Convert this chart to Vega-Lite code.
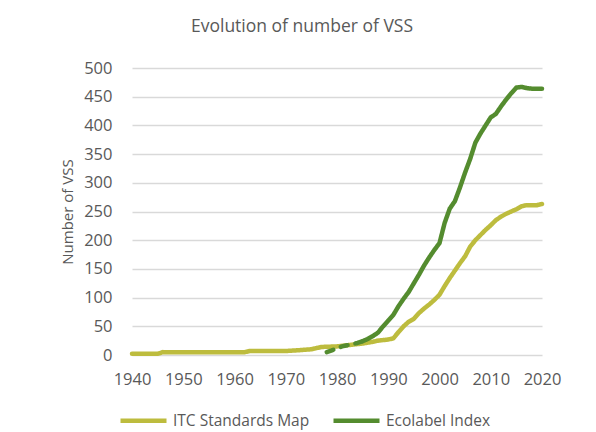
{
  "$schema": "https://vega.github.io/schema/vega-lite/v6.json",
  "width": 410,
  "height": 287,
  "autosize": {"type": "none"},
  "padding": {"left": 132, "top": 68, "right": 54, "bottom": 77},
  "background": "white",
  "title": {
    "text": "Evolution of number of VSS",
    "font": "Open Sans",
    "fontSize": 17.5,
    "fontWeight": "normal",
    "color": "#595959",
    "anchor": "middle",
    "frame": "group",
    "dx": -35,
    "baseline": "alphabetic",
    "offset": 11
  },
  "config": {
    "view": {"stroke": null},
    "axis": {
      "labelFont": "Open Sans",
      "labelFontSize": 16.5,
      "labelColor": "#595959",
      "titleFont": "Open Sans",
      "titleFontSize": 15,
      "titleFontWeight": "normal",
      "titleColor": "#595959",
      "gridColor": "#D9D9D9",
      "gridWidth": 1.3,
      "domain": false,
      "ticks": false,
      "tickSize": 0
    },
    "legend": {
      "labelFont": "Open Sans",
      "labelFontSize": 15.5,
      "labelColor": "#595959"
    }
  },
  "data": {
    "values": [
      {"year": 1940, "value": 2, "series": "ITC Standards Map", "seg": "solid"},
      {"year": 1945, "value": 2, "series": "ITC Standards Map", "seg": "solid"},
      {"year": 1946, "value": 5, "series": "ITC Standards Map", "seg": "solid"},
      {"year": 1950, "value": 5, "series": "ITC Standards Map", "seg": "solid"},
      {"year": 1955, "value": 5, "series": "ITC Standards Map", "seg": "solid"},
      {"year": 1962, "value": 5, "series": "ITC Standards Map", "seg": "solid"},
      {"year": 1963, "value": 7, "series": "ITC Standards Map", "seg": "solid"},
      {"year": 1970, "value": 7, "series": "ITC Standards Map", "seg": "solid"},
      {"year": 1972, "value": 8, "series": "ITC Standards Map", "seg": "solid"},
      {"year": 1975, "value": 10, "series": "ITC Standards Map", "seg": "solid"},
      {"year": 1977, "value": 14, "series": "ITC Standards Map", "seg": "solid"},
      {"year": 1980, "value": 15, "series": "ITC Standards Map", "seg": "solid"},
      {"year": 1982, "value": 17, "series": "ITC Standards Map", "seg": "solid"},
      {"year": 1985, "value": 20, "series": "ITC Standards Map", "seg": "solid"},
      {"year": 1987, "value": 23, "series": "ITC Standards Map", "seg": "solid"},
      {"year": 1988, "value": 25, "series": "ITC Standards Map", "seg": "solid"},
      {"year": 1990, "value": 27, "series": "ITC Standards Map", "seg": "solid"},
      {"year": 1991, "value": 29, "series": "ITC Standards Map", "seg": "solid"},
      {"year": 1992, "value": 40, "series": "ITC Standards Map", "seg": "solid"},
      {"year": 1993, "value": 50, "series": "ITC Standards Map", "seg": "solid"},
      {"year": 1994, "value": 58, "series": "ITC Standards Map", "seg": "solid"},
      {"year": 1995, "value": 63, "series": "ITC Standards Map", "seg": "solid"},
      {"year": 1996, "value": 73, "series": "ITC Standards Map", "seg": "solid"},
      {"year": 1997, "value": 81, "series": "ITC Standards Map", "seg": "solid"},
      {"year": 1998, "value": 88, "series": "ITC Standards Map", "seg": "solid"},
      {"year": 1999, "value": 96, "series": "ITC Standards Map", "seg": "solid"},
      {"year": 2000, "value": 105, "series": "ITC Standards Map", "seg": "solid"},
      {"year": 2001, "value": 120, "series": "ITC Standards Map", "seg": "solid"},
      {"year": 2002, "value": 134, "series": "ITC Standards Map", "seg": "solid"},
      {"year": 2003, "value": 147, "series": "ITC Standards Map", "seg": "solid"},
      {"year": 2004, "value": 160, "series": "ITC Standards Map", "seg": "solid"},
      {"year": 2005, "value": 172, "series": "ITC Standards Map", "seg": "solid"},
      {"year": 2006, "value": 189, "series": "ITC Standards Map", "seg": "solid"},
      {"year": 2007, "value": 200, "series": "ITC Standards Map", "seg": "solid"},
      {"year": 2008, "value": 209, "series": "ITC Standards Map", "seg": "solid"},
      {"year": 2009, "value": 218, "series": "ITC Standards Map", "seg": "solid"},
      {"year": 2010, "value": 226, "series": "ITC Standards Map", "seg": "solid"},
      {"year": 2011, "value": 235, "series": "ITC Standards Map", "seg": "solid"},
      {"year": 2012, "value": 241, "series": "ITC Standards Map", "seg": "solid"},
      {"year": 2013, "value": 246, "series": "ITC Standards Map", "seg": "solid"},
      {"year": 2014, "value": 250, "series": "ITC Standards Map", "seg": "solid"},
      {"year": 2015, "value": 254, "series": "ITC Standards Map", "seg": "solid"},
      {"year": 2016, "value": 259, "series": "ITC Standards Map", "seg": "solid"},
      {"year": 2017, "value": 261, "series": "ITC Standards Map", "seg": "solid"},
      {"year": 2018, "value": 261, "series": "ITC Standards Map", "seg": "solid"},
      {"year": 2019, "value": 261, "series": "ITC Standards Map", "seg": "solid"},
      {"year": 2020, "value": 263, "series": "ITC Standards Map", "seg": "solid"},
      {"year": 1978, "value": 5, "series": "Ecolabel Index", "seg": "dashed"},
      {"year": 1979, "value": 8, "series": "Ecolabel Index", "seg": "dashed"},
      {"year": 1980, "value": 12, "series": "Ecolabel Index", "seg": "dashed"},
      {"year": 1981, "value": 15, "series": "Ecolabel Index", "seg": "dashed"},
      {"year": 1982, "value": 17, "series": "Ecolabel Index", "seg": "dashed"},
      {"year": 1983, "value": 19, "series": "Ecolabel Index", "seg": "dashed"},
      {"year": 1984, "value": 21, "series": "Ecolabel Index", "seg": "dashed"},
      {"year": 1985, "value": 24, "series": "Ecolabel Index", "seg": "dashed"},
      {"year": 1985, "value": 24, "series": "Ecolabel Index", "seg": "solid"},
      {"year": 1986, "value": 28, "series": "Ecolabel Index", "seg": "solid"},
      {"year": 1987, "value": 33, "series": "Ecolabel Index", "seg": "solid"},
      {"year": 1988, "value": 39, "series": "Ecolabel Index", "seg": "solid"},
      {"year": 1989, "value": 50, "series": "Ecolabel Index", "seg": "solid"},
      {"year": 1990, "value": 60, "series": "Ecolabel Index", "seg": "solid"},
      {"year": 1991, "value": 70, "series": "Ecolabel Index", "seg": "solid"},
      {"year": 1992, "value": 85, "series": "Ecolabel Index", "seg": "solid"},
      {"year": 1993, "value": 98, "series": "Ecolabel Index", "seg": "solid"},
      {"year": 1994, "value": 110, "series": "Ecolabel Index", "seg": "solid"},
      {"year": 1995, "value": 125, "series": "Ecolabel Index", "seg": "solid"},
      {"year": 1996, "value": 140, "series": "Ecolabel Index", "seg": "solid"},
      {"year": 1997, "value": 156, "series": "Ecolabel Index", "seg": "solid"},
      {"year": 1998, "value": 170, "series": "Ecolabel Index", "seg": "solid"},
      {"year": 1999, "value": 183, "series": "Ecolabel Index", "seg": "solid"},
      {"year": 2000, "value": 195, "series": "Ecolabel Index", "seg": "solid"},
      {"year": 2001, "value": 230, "series": "Ecolabel Index", "seg": "solid"},
      {"year": 2002, "value": 255, "series": "Ecolabel Index", "seg": "solid"},
      {"year": 2003, "value": 268, "series": "Ecolabel Index", "seg": "solid"},
      {"year": 2004, "value": 292, "series": "Ecolabel Index", "seg": "solid"},
      {"year": 2005, "value": 318, "series": "Ecolabel Index", "seg": "solid"},
      {"year": 2006, "value": 342, "series": "Ecolabel Index", "seg": "solid"},
      {"year": 2007, "value": 370, "series": "Ecolabel Index", "seg": "solid"},
      {"year": 2008, "value": 386, "series": "Ecolabel Index", "seg": "solid"},
      {"year": 2009, "value": 400, "series": "Ecolabel Index", "seg": "solid"},
      {"year": 2010, "value": 414, "series": "Ecolabel Index", "seg": "solid"},
      {"year": 2011, "value": 420, "series": "Ecolabel Index", "seg": "solid"},
      {"year": 2012, "value": 433, "series": "Ecolabel Index", "seg": "solid"},
      {"year": 2013, "value": 445, "series": "Ecolabel Index", "seg": "solid"},
      {"year": 2014, "value": 456, "series": "Ecolabel Index", "seg": "solid"},
      {"year": 2015, "value": 466, "series": "Ecolabel Index", "seg": "solid"},
      {"year": 2016, "value": 467, "series": "Ecolabel Index", "seg": "solid"},
      {"year": 2017, "value": 465, "series": "Ecolabel Index", "seg": "solid"},
      {"year": 2018, "value": 464, "series": "Ecolabel Index", "seg": "solid"},
      {"year": 2019, "value": 464, "series": "Ecolabel Index", "seg": "solid"},
      {"year": 2020, "value": 464, "series": "Ecolabel Index", "seg": "solid"}
    ]
  },
  "encoding": {
    "x": {
      "field": "year",
      "type": "quantitative",
      "scale": {"domain": [1940, 2020], "nice": false},
      "axis": {
        "title": null,
        "values": [1940, 1950, 1960, 1970, 1980, 1990, 2000, 2010, 2020],
        "format": "d",
        "grid": false,
        "labelPadding": 16,
        "labelFlush": false
      }
    },
    "y": {
      "field": "value",
      "type": "quantitative",
      "scale": {"domain": [0, 500], "nice": false},
      "axis": {
        "title": "Number of VSS",
        "values": [0, 50, 100, 150, 200, 250, 300, 350, 400, 450, 500],
        "labelPadding": 20,
        "titlePadding": 8
      }
    },
    "color": {
      "field": "series",
      "type": "nominal",
      "scale": {"domain": ["ITC Standards Map", "Ecolabel Index"], "range": ["#BDBC3E", "#548C2F"]},
      "legend": {
        "title": null,
        "orient": "none",
        "direction": "horizontal",
        "legendX": -14,
        "legendY": 327,
        "symbolType": "stroke",
        "symbolSize": 2116,
        "symbolStrokeWidth": 4.5,
        "labelOffset": 4,
        "columnPadding": 14
      }
    },
    "strokeDash": {
      "field": "seg",
      "type": "nominal",
      "scale": {"domain": ["solid", "dashed"], "range": [[1, 0], [7, 8]]},
      "legend": null
    }
  },
  "layer": [
    {
      "transform": [{"filter": "datum.series === 'ITC Standards Map'"}],
      "mark": {"type": "line", "strokeWidth": 4.5, "strokeCap": "round", "strokeJoin": "round"}
    },
    {
      "transform": [{"filter": "datum.series === 'Ecolabel Index'"}],
      "mark": {"type": "line", "strokeWidth": 4.5, "strokeCap": "round", "strokeJoin": "round"}
    }
  ]
}
